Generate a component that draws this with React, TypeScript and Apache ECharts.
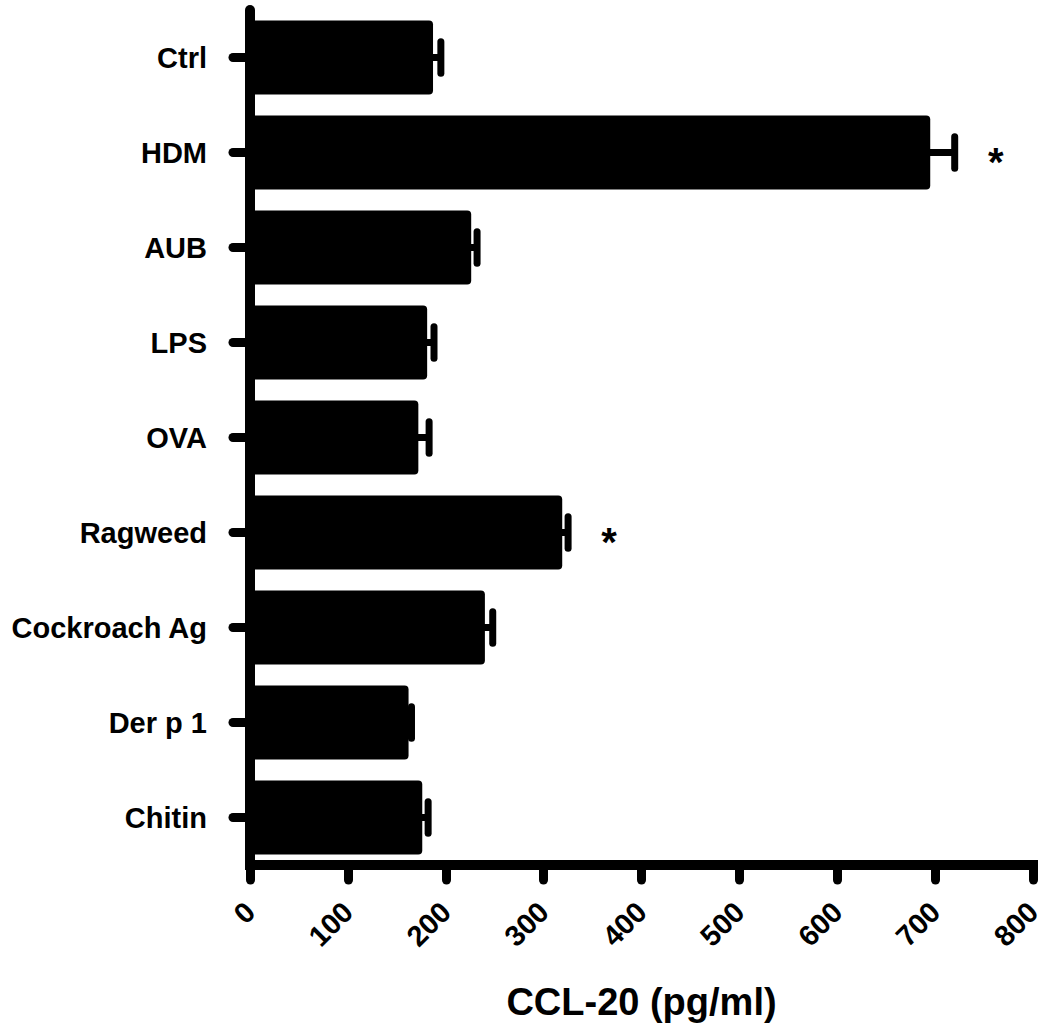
import React, { useEffect, useRef } from "react";
import * as echarts from "echarts";

const categories = ["Ctrl", "HDM", "AUB", "LPS", "OVA", "Ragweed", "Cockroach Ag", "Der p 1", "Chitin"];
const means = [187, 695, 226, 181, 172, 319, 240, 162, 176];
const errors = [8, 25, 6, 7, 11, 6, 8, 3, 6];
const significance = ["", "*", "", "", "", "*", "", "", ""];
const xMin = 0;
const xMax = 800;
const xInterval = 100;
const xTitle = "CCL-20 (pg/ml)";

const FONT = "'Liberation Sans', Arial, Helvetica, sans-serif";

export default function App() {
  const ref = useRef<HTMLDivElement>(null);
  useEffect(() => {
    if (!ref.current) return;
    const chart = echarts.init(ref.current, undefined, { renderer: "svg" });
    const errData = means.map((m, i) => [m, i, errors[i]]);
    chart.setOption({
      animation: false,
      backgroundColor: "#ffffff",
      grid: { left: 250, right: 13, top: 10, bottom: 164, containLabel: false },
      xAxis: {
        type: "value",
        min: xMin,
        max: xMax,
        interval: xInterval,
        name: xTitle,
        nameLocation: "middle",
        nameGap: 118,
        nameTextStyle: { fontSize: 38, fontWeight: "bold", color: "#000", fontFamily: FONT },
        splitLine: { show: false },
        axisLine: { show: true, onZero: false, lineStyle: { color: "#000", width: 10, cap: "square" } },
        axisTick: { show: true, length: 15, lineStyle: { color: "#000", width: 9, cap: "round" } },
        axisLabel: {
          rotate: 45,
          margin: 42,
          fontSize: 29,
          fontWeight: "bold",
          color: "#000",
          fontFamily: FONT,
        },
      },
      yAxis: {
        type: "category",
        data: categories,
        inverse: true,
        axisLine: { show: true, lineStyle: { color: "#000", width: 10 } },
        axisTick: { show: true, alignWithLabel: true, length: 17, lineStyle: { color: "#000", width: 9, cap: "round" } },
        axisLabel: { margin: 43, fontSize: 29, fontWeight: "bold", color: "#000", fontFamily: FONT },
        splitLine: { show: false },
      },
      series: [
        {
          type: "bar",
          data: means,
          barCategoryGap: "22%",
          itemStyle: { color: "#000", borderRadius: 4 },
          z: 2,
        },
        {
          type: "custom",
          data: errData,
          encode: { x: 0, y: 1 },
          z: 3,
          renderItem: (params: any, api: any) => {
            const m = api.value(0);
            const i = api.value(1);
            const e = api.value(2);
            const p0 = api.coord([m, i]);
            const p1 = api.coord([m + e, i]);
            const band = api.size([0, 1])[1];
            const half = band * 0.165;
            const children: any[] = [
              {
                type: "line",
                shape: { x1: p0[0] - 2, y1: p0[1], x2: p1[0], y2: p1[1] },
                style: { stroke: "#000", lineWidth: 7, lineCap: "butt" },
              },
              {
                type: "line",
                shape: { x1: p1[0], y1: p1[1] - half, x2: p1[0], y2: p1[1] + half },
                style: { stroke: "#000", lineWidth: 7, lineCap: "round" },
              },
            ];
            const mark = significance[params.dataIndex];
            if (mark) {
              children.push({
                type: "text",
                x: p1[0] + 41,
                y: p1[1] + 9,
                style: {
                  text: mark,
                  fontSize: 40,
                  fontWeight: "bold",
                  fontFamily: FONT,
                  fill: "#000",
                  align: "center",
                  verticalAlign: "middle",
                },
              });
            }
            return { type: "group", children };
          },
        },
      ],
    });
    return () => chart.dispose();
  }, []);
  return (
    <div
      ref={ref}
      style={{ position: "fixed", left: 0, top: 0, width: 1046, height: 1029, background: "#fff" }}
    />
  );
}
